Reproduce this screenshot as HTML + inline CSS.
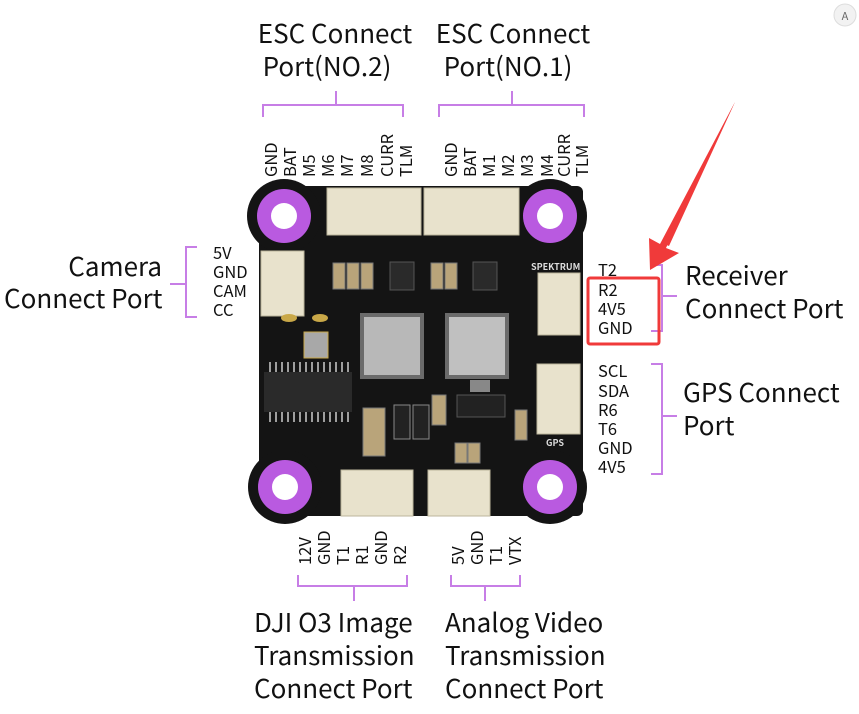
<!DOCTYPE html>
<html><head><meta charset="utf-8"><style>
html,body{margin:0;padding:0;background:#fff;}
svg{display:block}
text{font-family:"Noto Sans CJK SC","Liberation Sans",sans-serif;fill:#111;}
.t{font-size:26px}
.p{font-size:16.5px}
.br{stroke:#c77ee6;stroke-width:2;fill:none}
</style></head><body>
<svg width="859" height="714" viewBox="0 0 859 714" xmlns="http://www.w3.org/2000/svg">
<circle cx="845" cy="15" r="11" fill="#f2f2f2" stroke="#ddd"/>
<text x="845" y="20" font-size="11" text-anchor="middle" style="fill:#666">A</text>

<text class="t" x="335" y="43" text-anchor="middle">ESC Connect</text>
<text class="t" x="327" y="76" text-anchor="middle">Port(NO.2)</text>
<text class="t" x="513" y="43" text-anchor="middle">ESC Connect</text>
<text class="t" x="508" y="76" text-anchor="middle">Port(NO.1)</text>
<path class="br" d="M263 117V105H403V117M336 91V105"/>
<path class="br" d="M439 117V105H584V117M512 91V105"/>

<g>
<text class="p" transform="translate(277,177) rotate(-90)">GND</text>
<text class="p" transform="translate(296,177) rotate(-90)">BAT</text>
<text class="p" transform="translate(315,177) rotate(-90)">M5</text>
<text class="p" transform="translate(334,177) rotate(-90)">M6</text>
<text class="p" transform="translate(353,177) rotate(-90)">M7</text>
<text class="p" transform="translate(373,177) rotate(-90)">M8</text>
<text class="p" transform="translate(393,177) rotate(-90)">CURR</text>
<text class="p" transform="translate(412,177) rotate(-90)">TLM</text>
<text class="p" transform="translate(457,177) rotate(-90)">GND</text>
<text class="p" transform="translate(476,177) rotate(-90)">BAT</text>
<text class="p" transform="translate(495,177) rotate(-90)">M1</text>
<text class="p" transform="translate(514,177) rotate(-90)">M2</text>
<text class="p" transform="translate(533,177) rotate(-90)">M3</text>
<text class="p" transform="translate(553,177) rotate(-90)">M4</text>
<text class="p" transform="translate(570,177) rotate(-90)">CURR</text>
<text class="p" transform="translate(588,177) rotate(-90)">TLM</text>
</g>

<text class="t" x="162" y="276" text-anchor="end">Camera</text>
<text class="t" x="4" y="308">Connect Port</text>
<path class="br" d="M197 247H186V317H197M170 284H186"/>
<text class="p" x="213" y="259">5V</text>
<text class="p" x="213" y="278">GND</text>
<text class="p" x="213" y="297">CAM</text>
<text class="p" x="213" y="316">CC</text>

<text class="p" x="598" y="276">T2</text>
<text class="p" x="598" y="296">R2</text>
<text class="p" x="598" y="315">4V5</text>
<text class="p" x="598" y="334">GND</text>
<path class="br" d="M651 265H662V331H651M662 296H677"/>
<text class="t" x="685" y="285">Receiver</text>
<text class="t" x="685" y="318">Connect Port</text>
<rect x="588" y="278" width="71" height="66" rx="2" fill="none" stroke="#f03a3a" stroke-width="3"/>
<polygon points="735,102 666,248 679,253 650,270 649,238 660,244" fill="#f03a3a"/>
<polygon points="735,102 669,246 662,243" fill="#f03a3a"/>

<text class="p" x="598" y="377">SCL</text>
<text class="p" x="598" y="397">SDA</text>
<text class="p" x="598" y="416">R6</text>
<text class="p" x="598" y="435">T6</text>
<text class="p" x="598" y="454">GND</text>
<text class="p" x="598" y="473">4V5</text>
<path class="br" d="M651 364H662V474H651M662 416H677"/>
<text class="t" x="683" y="402">GPS Connect</text>
<text class="t" x="683" y="435">Port</text>

<g>
<text class="p" transform="translate(311,565) rotate(-90)">12V</text>
<text class="p" transform="translate(330,565) rotate(-90)">GND</text>
<text class="p" transform="translate(349,565) rotate(-90)">T1</text>
<text class="p" transform="translate(368,565) rotate(-90)">R1</text>
<text class="p" transform="translate(387,565) rotate(-90)">GND</text>
<text class="p" transform="translate(406,565) rotate(-90)">R2</text>
<text class="p" transform="translate(464,565) rotate(-90)">5V</text>
<text class="p" transform="translate(483,565) rotate(-90)">GND</text>
<text class="p" transform="translate(502,565) rotate(-90)">T1</text>
<text class="p" transform="translate(521,565) rotate(-90)">VTX</text>
</g>
<path class="br" d="M298 575V586H407V575M354 586V601"/>
<path class="br" d="M451 575V586H520V575M485 586V601"/>
<text class="t" x="254" y="632">DJI O3 Image</text>
<text class="t" x="254" y="665">Transmission</text>
<text class="t" x="254" y="698">Connect Port</text>
<text class="t" x="445" y="632">Analog Video</text>
<text class="t" x="445" y="665">Transmission</text>
<text class="t" x="445" y="698">Connect Port</text>

<g>
<rect x="259" y="186" width="324" height="330" rx="6" fill="#141414"/>
<circle cx="284" cy="216" r="37" fill="#141414"/>
<circle cx="550" cy="216" r="37" fill="#141414"/>
<circle cx="285" cy="487" r="37" fill="#141414"/>
<circle cx="550" cy="487" r="37" fill="#141414"/>
<g fill="#b95ae0">
<circle cx="284" cy="216" r="27"/><circle cx="550" cy="216" r="27"/>
<circle cx="285" cy="487" r="27"/><circle cx="550" cy="487" r="27"/></g>
<g fill="#fff">
<circle cx="284" cy="216" r="13"/><circle cx="550" cy="216" r="13"/>
<circle cx="285" cy="487" r="13"/><circle cx="550" cy="487" r="13"/></g>
<g fill="#e8e2cc" stroke="#bdb69c">
<rect x="327" y="188" width="94" height="47"/>
<rect x="424" y="188" width="95" height="47"/>
<rect x="261" y="251" width="43" height="65"/>
<rect x="538" y="273" width="42" height="62"/>
<rect x="537" y="364" width="43" height="70"/>
<rect x="341" y="470" width="72" height="46"/>
<rect x="428" y="470" width="62" height="46"/>
</g>
<rect x="360" y="313" width="64" height="66" fill="#6b6b6b"/>
<rect x="364" y="317" width="56" height="58" fill="#b8b8b8"/>
<rect x="445" y="313" width="64" height="66" fill="#6b6b6b"/>
<rect x="449" y="317" width="56" height="58" fill="#c0c0c0"/>
<rect x="264" y="372" width="88" height="40" fill="#2a2a2a"/>
<g stroke="#ccc" stroke-width="1.5">
<path d="M270 362v10M276 362v10M282 362v10M288 362v10M294 362v10M300 362v10M306 362v10M312 362v10M318 362v10M324 362v10M330 362v10M336 362v10M342 362v10M348 362v10"/>
<path d="M270 412v10M276 412v10M282 412v10M288 412v10M294 412v10M300 412v10M306 412v10M312 412v10M318 412v10M324 412v10M330 412v10M336 412v10M342 412v10M348 412v10"/>
</g>
<rect x="304" y="332" width="24" height="26" fill="#a8a8a8" stroke="#c8a84a"/>
<rect x="390" y="262" width="24" height="28" fill="#2a2a2a" stroke="#555"/>
<rect x="473" y="262" width="24" height="28" fill="#2a2a2a" stroke="#555"/>
<rect x="457" y="395" width="48" height="22" fill="#222" stroke="#555"/>
<rect x="470" y="380" width="20" height="12" fill="#888"/>
<g fill="#b9a47a" stroke="#777">
<rect x="333" y="263" width="12" height="26"/><rect x="347" y="263" width="12" height="26"/><rect x="361" y="263" width="12" height="26"/>
<rect x="431" y="263" width="12" height="26"/><rect x="445" y="263" width="12" height="26"/>
<rect x="363" y="408" width="22" height="48"/>
<rect x="432" y="395" width="14" height="30"/>
<rect x="455" y="443" width="12" height="20"/><rect x="468" y="443" width="12" height="20"/>
<rect x="515" y="410" width="12" height="30"/>
</g>
<rect x="394" y="405" width="16" height="34" fill="#222" stroke="#888"/>
<rect x="413" y="405" width="16" height="34" fill="#222" stroke="#888"/>
<ellipse cx="289" cy="318" rx="8" ry="4" fill="#c9a848"/>
<ellipse cx="320" cy="318" rx="8" ry="4" fill="#c9a848"/>
<text x="531" y="270" font-size="9" style="fill:#ddd;font-weight:bold">SPEKTRUM</text>
<text x="546" y="446" font-size="9" style="fill:#ddd;font-weight:bold">GPS</text>
</g>
</svg>
</body></html>
